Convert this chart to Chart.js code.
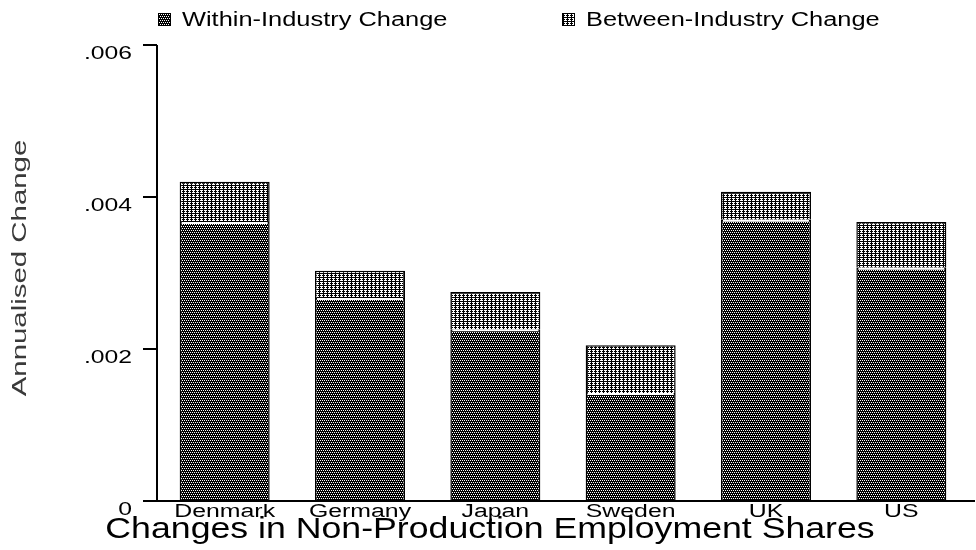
<!DOCTYPE html>
<html>
<head>
<meta charset="utf-8">
<script src="https://cdn.jsdelivr.net/npm/chart.js@4/dist/chart.umd.min.js"></script>
<style>
  body { margin: 0; background: #fff; }
  canvas { display: block; }
</style>
</head>
<body>
<canvas id="shares" width="976" height="550"></canvas>
<script>
'use strict';

// data
const countries = ['Denmark', 'Germany', 'Japan', 'Sweden', 'UK', 'US'];
const withinChange = [0.00367, 0.00267, 0.00226, 0.00142, 0.00370, 0.00307];
const betweenChange = [0.00053, 0.00036, 0.00049, 0.00063, 0.00037, 0.00060];
const yTickValues = [0, 0.002, 0.004, 0.006];
const yTickLabels = ['0', '.002', '.004', '.006'];
const seriesNames = ['Within-Industry Change', 'Between-Industry Change'];

const FONT = 'Arial, "Liberation Sans", Helvetica, sans-serif';

// hatch patterns like the old printout
const makePattern = function(size, whites) {
  const c = document.createElement('canvas');
  c.width = size; c.height = size;
  const g = c.getContext('2d');
  g.fillStyle = '#000';
  g.fillRect(0, 0, size, size);
  g.fillStyle = '#fff';
  whites.forEach(p => g.fillRect(p[0], p[1], 1, 1));
  return g.createPattern(c, 'repeat');
};

const ctx = document.getElementById('shares');
const withinFill = makePattern(4, [[0, 0], [2, 0], [1, 2], [3, 2]]);
const betweenFill = makePattern(4, [[0, 0], [1, 0], [2, 0], [0, 2], [1, 2], [2, 2], [1, 3]]);

// wide text, drawn with a horizontal stretch
const wideText = function(c, str, x, y, o) {
  c.save();
  c.translate(x, y);
  if (o.rotate) c.rotate(o.rotate);
  c.scale(o.sx || 1, 1);
  c.font = o.size + 'px ' + FONT;
  c.textAlign = o.align || 'left';
  c.textBaseline = o.baseline || 'alphabetic';
  c.fillStyle = o.color || '#000';
  c.fillText(str, 0, 0);
  c.restore();
};

const printout = {
  id: 'printout',
  afterDatasetsDraw(chart) {
    const c = chart.ctx;
    const area = chart.chartArea;
    const xs = chart.scales.x;
    const ys = chart.scales.y;

    // white seam between the two segments
    const within = chart.getDatasetMeta(0);
    c.save();
    c.strokeStyle = '#fff';
    c.lineWidth = 2;
    within.data.forEach(bar => {
      c.beginPath();
      c.moveTo(bar.x - bar.width / 2 + 2, bar.y + 1);
      c.lineTo(bar.x + bar.width / 2 - 2, bar.y + 1);
      c.stroke();
    });

    // axes
    c.strokeStyle = '#000';
    c.lineWidth = 2;
    c.beginPath();
    c.moveTo(area.left, ys.getPixelForValue(0.006));
    c.lineTo(area.left, area.bottom);
    c.lineTo(975, area.bottom);
    yTickValues.forEach(v => {
      const py = ys.getPixelForValue(v);
      c.moveTo(area.left - 14, py);
      c.lineTo(area.left, py);
    });
    c.stroke();
    c.restore();

    yTickValues.forEach((v, i) => {
      const py = ys.getPixelForValue(v);
      wideText(c, yTickLabels[i], 132, py + 14, {size: 19, sx: 1.3, align: 'right'});
    });

    countries.forEach((name, i) => {
      wideText(c, name, xs.getPixelForValue(i), 517, {size: 18, sx: 1.38, align: 'center'});
    });

    wideText(c, 'Changes in Non-Production Employment Shares', 490, 538, {size: 29, sx: 1.23, align: 'center'});
    wideText(c, 'Annualised Change', 20, 268, {size: 20, sx: 1.47, align: 'center', baseline: 'middle', rotate: -Math.PI / 2, color: '#3a3a3a'});

    // legend
    const legend = [[158, withinFill], [562, betweenFill]];
    legend.forEach((item, i) => {
      c.save();
      c.fillStyle = item[1];
      c.fillRect(item[0], 13, 13, 13);
      c.strokeStyle = '#000';
      c.lineWidth = 1;
      c.strokeRect(item[0] + 0.5, 13.5, 12, 12);
      c.restore();
      wideText(c, seriesNames[i], item[0] + 24, 26, {size: 20, sx: 1.27});
    });
  }
};

new Chart(ctx, {
  type: 'bar',
  data: {
    labels: countries,
    datasets: [{
      label: seriesNames[0],
      data: withinChange,
      backgroundColor: withinFill,
      borderColor: '#000',
      borderWidth: 1.5
    }, {
      label: seriesNames[1],
      data: betweenChange,
      backgroundColor: betweenFill,
      borderColor: '#000',
      borderWidth: 1.5
    }]
  },
  options: {
    responsive: false,
    animation: false,
    devicePixelRatio: 1,
    categoryPercentage: 1,
    barPercentage: 0.665,
    layout: { padding: { left: 157, right: 7, top: 45, bottom: 49 } },
    plugins: {
      legend: { display: false },
      tooltip: { enabled: false }
    },
    scales: {
      x: { display: false, stacked: true },
      y: { display: false, stacked: true, min: 0, max: 0.006, ticks: { stepSize: 0.002 } }
    }
  },
  plugins: [printout]
});
</script>
</body>
</html>
